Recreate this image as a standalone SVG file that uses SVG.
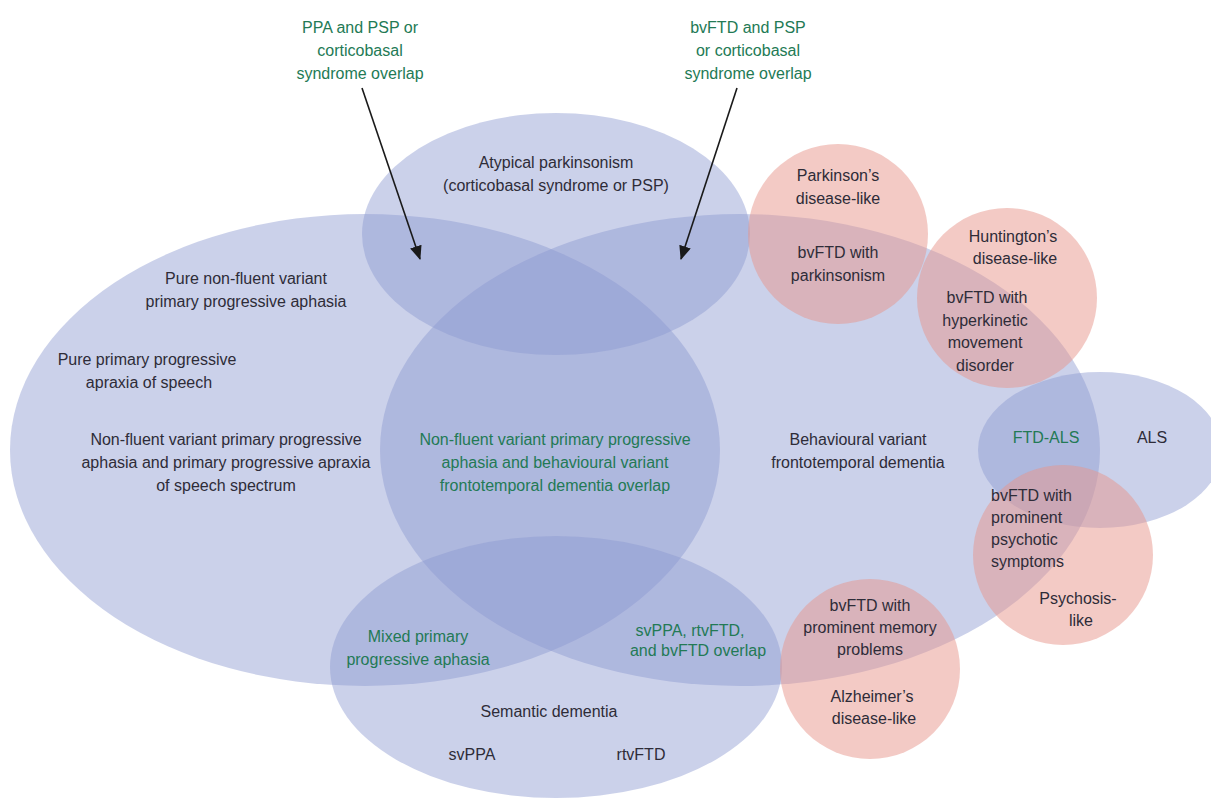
<svg xmlns="http://www.w3.org/2000/svg" width="1211" height="798" viewBox="0 0 1211 798">
<defs>
<style>
.b{fill:rgb(140,152,208);fill-opacity:0.45}
.p{fill:rgb(232,150,140);fill-opacity:0.5}
text{font-family:"Liberation Sans",Arial,sans-serif;font-size:16px;text-anchor:middle;fill:#2e2c38}
.g{fill:#237a55}
.l{text-anchor:start}
.c{stroke:#1a1a1a;stroke-width:1.6;fill:none}
</style>
<marker id="ah" markerWidth="14" markerHeight="12" refX="13" refY="6" orient="auto" markerUnits="userSpaceOnUse">
<path d="M0,0 L14,6 L0,12 z" fill="#1a1a1a"/>
</marker>
</defs>
<rect width="1211" height="798" fill="#fff"/>

<g id="nfvppa">
<ellipse class="b" cx="365" cy="450" rx="355" ry="236"/>
<text x="246" y="284">Pure non-fluent variant</text>
<text x="246" y="307">primary progressive aphasia</text>
<text x="147" y="365">Pure primary progressive</text>
<text x="149" y="388">apraxia of speech</text>
<text x="226" y="445">Non-fluent variant primary progressive</text>
<text x="226" y="468">aphasia and primary progressive apraxia</text>
<text x="226" y="491">of speech spectrum</text>
</g>
<g id="bvftd">
<ellipse class="b" cx="740" cy="450" rx="360" ry="236"/>
<text x="858" y="445">Behavioural variant</text>
<text x="858" y="468">frontotemporal dementia</text>
</g>
<g id="parkinsonism">
<ellipse class="b" cx="556" cy="234" rx="194" ry="121"/>
<text x="556" y="168">Atypical parkinsonism</text>
<text x="556" y="191">(corticobasal syndrome or PSP)</text>
</g>
<g id="semantic">
<ellipse class="b" cx="556" cy="667" rx="226" ry="131"/>
<text x="549" y="717">Semantic dementia</text>
<text x="472" y="760">svPPA</text>
<text x="641" y="760">rtvFTD</text>
</g>
<g id="als">
<ellipse class="b" cx="1100" cy="450" rx="122" ry="78"/>
<text x="1152" y="443">ALS</text>
</g>
<g id="parkinsons-like">
<circle class="p" cx="838" cy="234" r="90"/>
<text x="838" y="181">Parkinson’s</text>
<text x="838" y="204">disease-like</text>
<text x="838" y="258">bvFTD with</text>
<text x="838" y="281">parkinsonism</text>
</g>
<g id="huntingtons-like">
<circle class="p" cx="1007" cy="298" r="90"/>
<text x="1013" y="242">Huntington’s</text>
<text x="1015" y="264">disease-like</text>
<text x="987" y="303">bvFTD with</text>
<text x="985" y="326">hyperkinetic</text>
<text x="985" y="348">movement</text>
<text x="985" y="371">disorder</text>
</g>
<g id="psychosis-like">
<circle class="p" cx="1063" cy="555" r="90"/>
<text class="l" x="991" y="501">bvFTD with</text>
<text class="l" x="991" y="523">prominent</text>
<text class="l" x="991" y="545">psychotic</text>
<text class="l" x="991" y="567">symptoms</text>
<text x="1078" y="604">Psychosis-</text>
<text x="1081" y="626">like</text>
</g>
<g id="alzheimers-like">
<circle class="p" cx="870" cy="669" r="90"/>
<text x="870" y="611">bvFTD with</text>
<text x="870" y="633">prominent memory</text>
<text x="870" y="655">problems</text>
<text x="872" y="702">Alzheimer’s</text>
<text x="874" y="724">disease-like</text>
</g>
<g id="overlap-labels">
<text class="g" x="555" y="445">Non-fluent variant primary progressive</text>
<text class="g" x="555" y="468">aphasia and behavioural variant</text>
<text class="g" x="555" y="491">frontotemporal dementia overlap</text>
<text class="g" x="418" y="642">Mixed primary</text>
<text class="g" x="418" y="665">progressive aphasia</text>
<text class="g" x="690" y="636">svPPA, rtvFTD,</text>
<text class="g" x="698" y="656">and bvFTD overlap</text>
<text class="g" x="1046" y="443">FTD-ALS</text>
<text class="g" x="360" y="33">PPA and PSP or</text>
<text class="g" x="360" y="56">corticobasal</text>
<text class="g" x="360" y="79">syndrome overlap</text>
<text class="g" x="748" y="33">bvFTD and PSP</text>
<text class="g" x="748" y="56">or corticobasal</text>
<text class="g" x="748" y="79">syndrome overlap</text>
</g>
<g id="connectors">
<line class="c" x1="362" y1="88" x2="420" y2="259" marker-end="url(#ah)"/>
<line class="c" x1="737" y1="88" x2="681" y2="259" marker-end="url(#ah)"/>
</g>
</svg>
